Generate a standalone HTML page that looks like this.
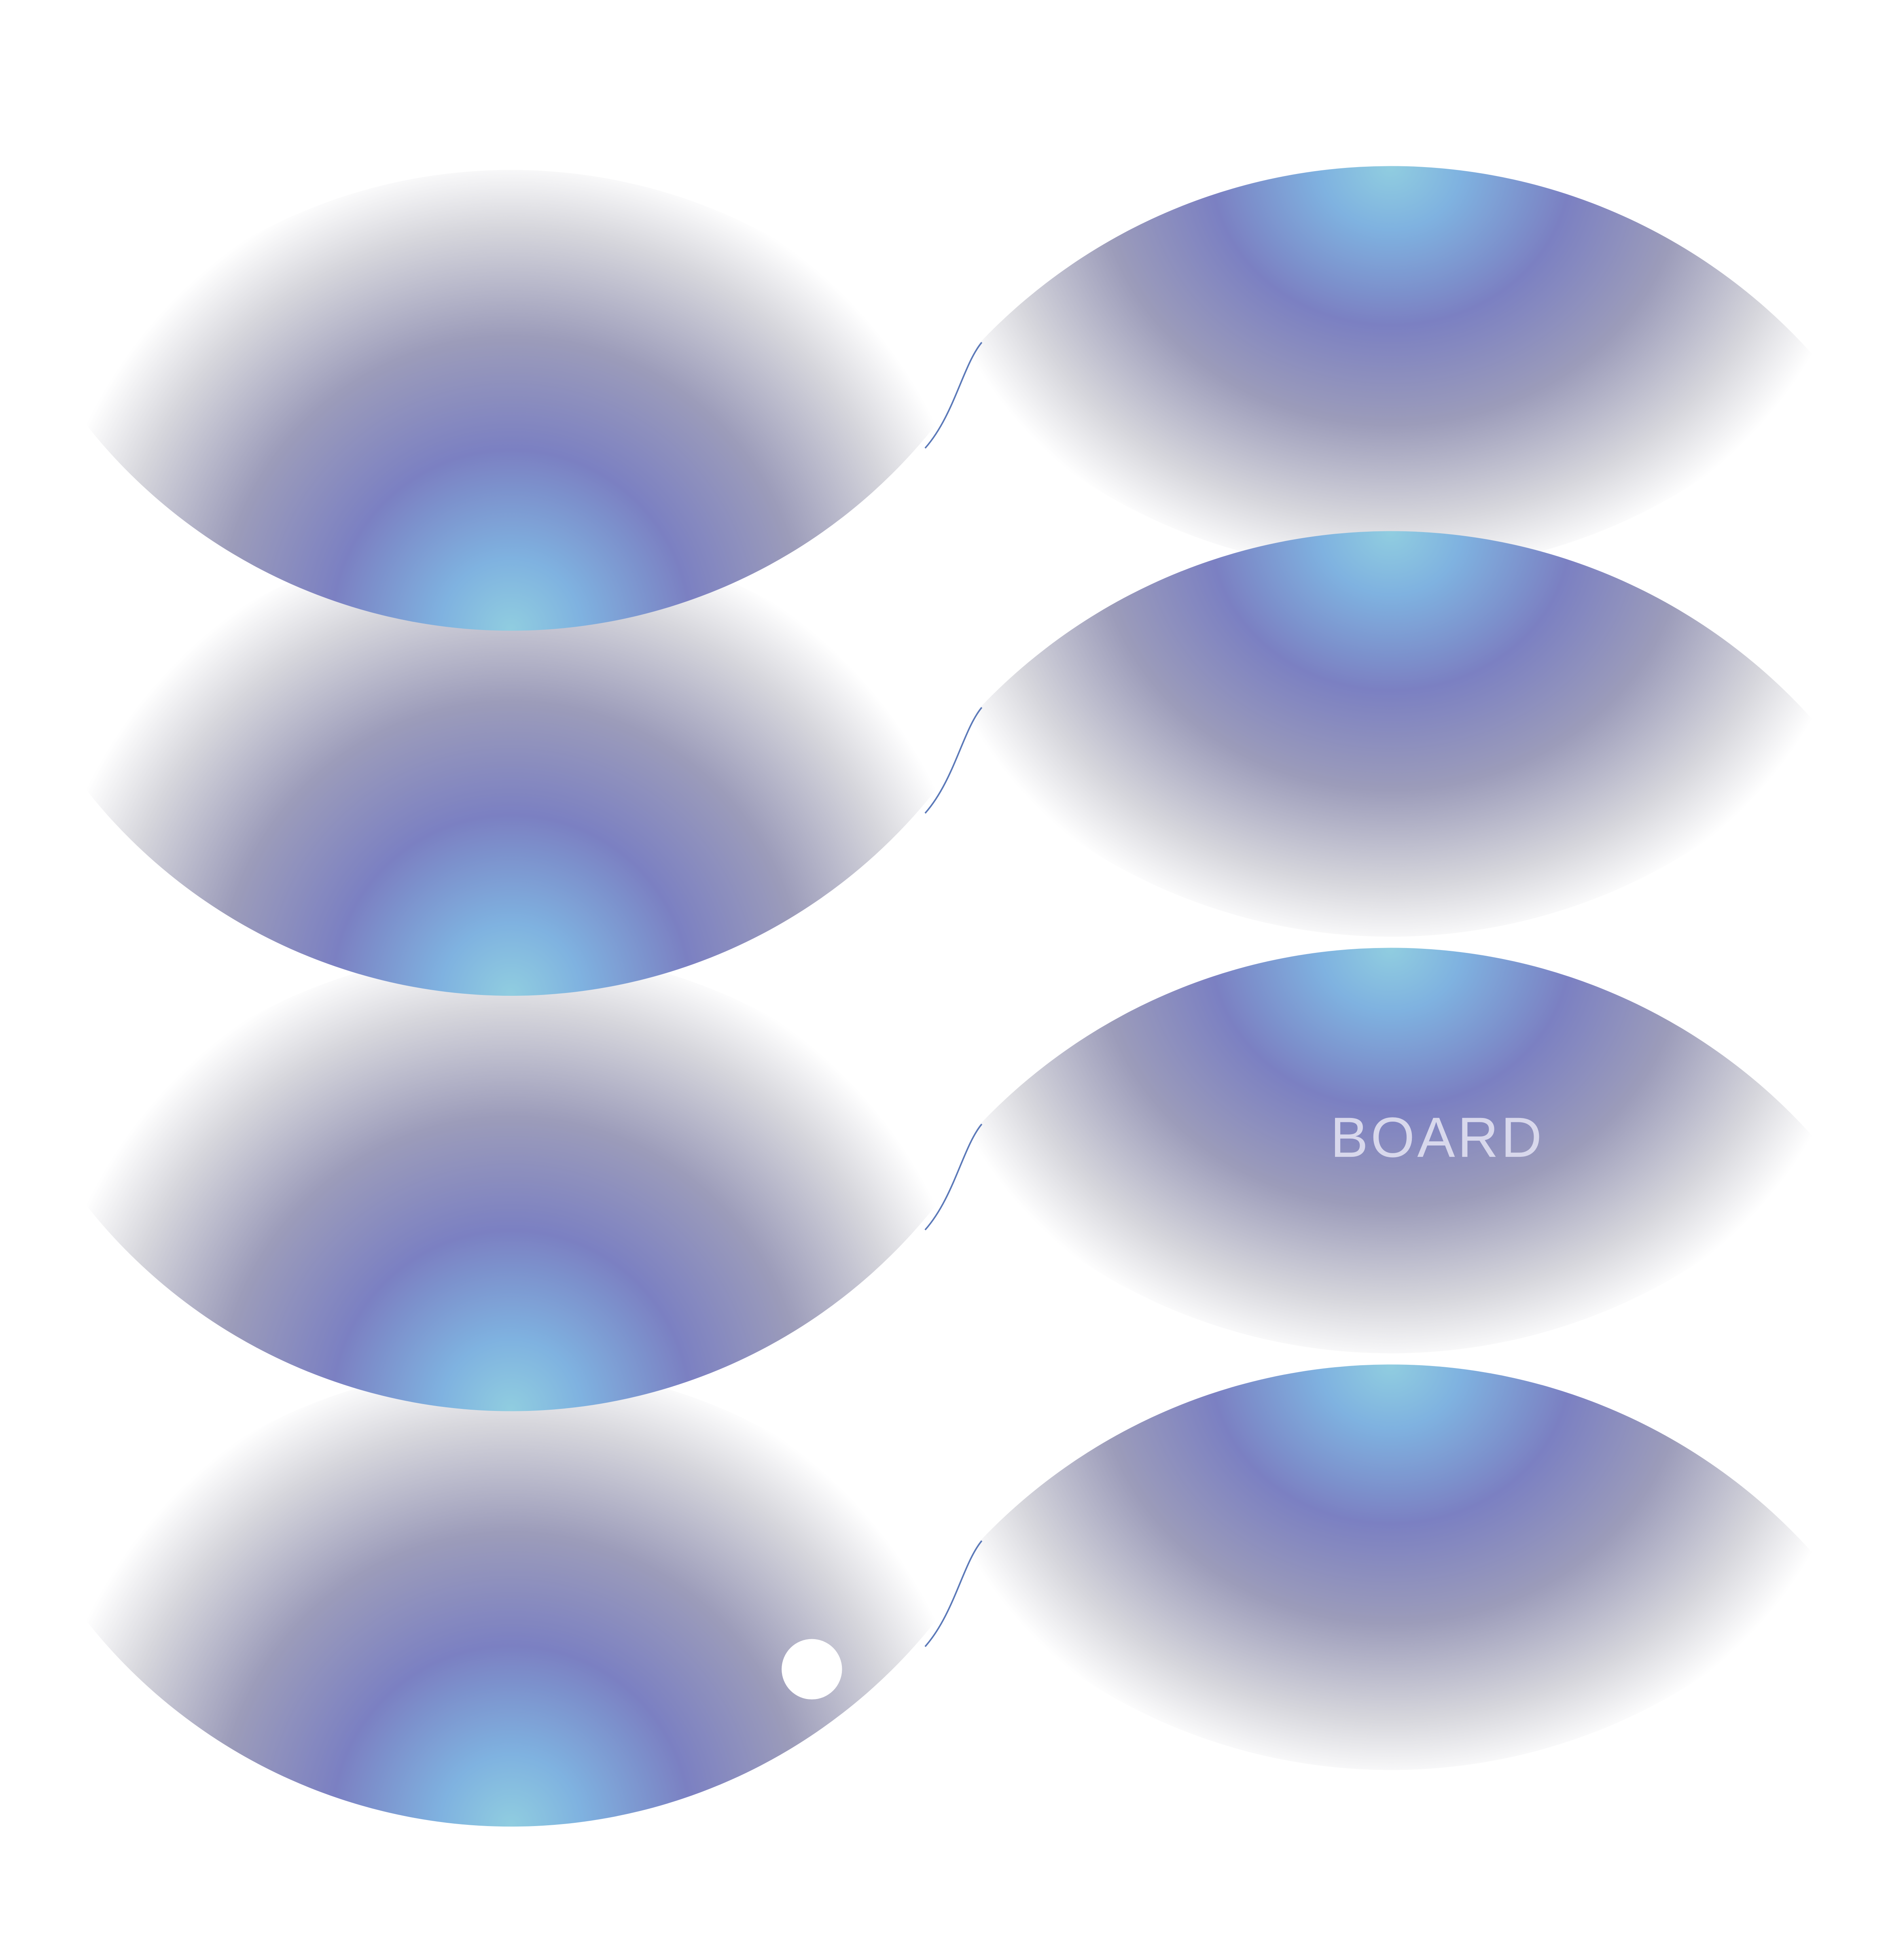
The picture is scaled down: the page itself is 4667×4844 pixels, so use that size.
<!DOCTYPE html>
<html><head><meta charset="utf-8"><style>html,body{margin:0;padding:0;background:#fff}svg{display:block}</style></head>
<body>
<svg width="4667" height="4844" viewBox="0 0 1500 1557" xmlns="http://www.w3.org/2000/svg">
<defs>
<radialGradient id="gl" gradientUnits="userSpaceOnUse" cx="0" cy="0" r="375">
<stop offset="0" stop-color="#90cde0"/>
<stop offset="0.15" stop-color="#7fb2e0"/>
<stop offset="0.38" stop-color="#7b80c2"/>
<stop offset="0.62" stop-color="#9c9cba"/>
<stop offset="0.85" stop-color="#d6d6dc"/>
<stop offset="1" stop-color="#ffffff"/>
</radialGradient>
<radialGradient id="gr" gradientUnits="userSpaceOnUse" cx="0" cy="0" r="375" gradientTransform="scale(1,0.88)">
<stop offset="0" stop-color="#90cde0"/>
<stop offset="0.15" stop-color="#7fb2e0"/>
<stop offset="0.38" stop-color="#7b80c2"/>
<stop offset="0.62" stop-color="#9c9cba"/>
<stop offset="0.85" stop-color="#d6d6dc"/>
<stop offset="1" stop-color="#ffffff"/>
</radialGradient>
</defs>
<g transform="translate(1105,133)"><path d="M -345 160 A 450 450 0 0 1 345 160 A 450 450 0 0 1 -345 160 Z" fill="url(#gr)"/></g>
<g transform="translate(1105,423)"><path d="M -345 160 A 450 450 0 0 1 345 160 A 450 450 0 0 1 -345 160 Z" fill="url(#gr)"/></g>
<g transform="translate(1105,754)"><path d="M -345 160 A 450 450 0 0 1 345 160 A 450 450 0 0 1 -345 160 Z" fill="url(#gr)"/></g>
<g transform="translate(1105,1085)"><path d="M -345 160 A 450 450 0 0 1 345 160 A 450 450 0 0 1 -345 160 Z" fill="url(#gr)"/></g>
<g transform="translate(406,1450)"><path d="M -352 -182 A 430 430 0 0 0 352 -182 A 430 430 0 0 0 -352 -182 Z" fill="url(#gl)"/></g>
<g transform="translate(406,1120)"><path d="M -352 -182 A 430 430 0 0 0 352 -182 A 430 430 0 0 0 -352 -182 Z" fill="url(#gl)"/></g>
<g transform="translate(406,790)"><path d="M -352 -182 A 430 430 0 0 0 352 -182 A 430 430 0 0 0 -352 -182 Z" fill="url(#gl)"/></g>
<g transform="translate(406,500)"><path d="M -352 -182 A 430 430 0 0 0 352 -182 A 430 430 0 0 0 -352 -182 Z" fill="url(#gl)"/></g>
<g fill="none" stroke="#5a78b8" stroke-width="1.2">
<path d="M 780 272 C 765 290 758 330 735 356"/>
<path d="M 780 562 C 765 580 758 620 735 646"/>
<path d="M 780 893 C 765 911 758 951 735 977"/>
<path d="M 780 1224 C 765 1242 758 1282 735 1308"/>
</g>
<circle cx="645" cy="1326" r="24" fill="#fff"/>
<text x="1142" y="919" text-anchor="middle" font-family="Liberation Sans, DejaVu Sans, sans-serif" font-size="45" letter-spacing="2" fill="#d8d8ec">BOARD</text>
</svg>
</body></html>
